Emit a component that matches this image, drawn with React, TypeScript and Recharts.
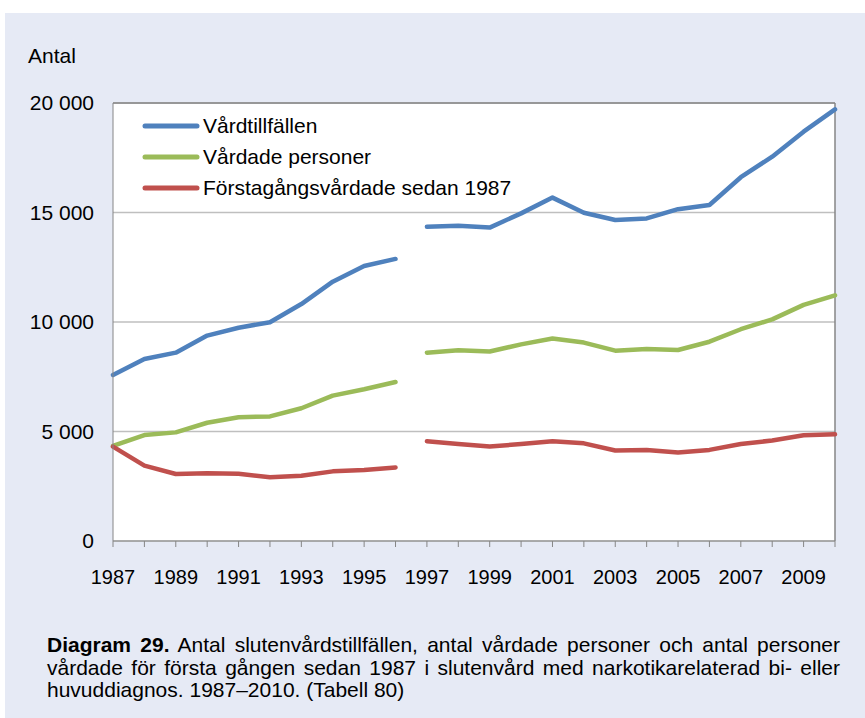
import React from 'react';
import { LineChart, Line, XAxis, YAxis, CartesianGrid, Legend, ReferenceLine } from 'recharts';

const years = [1987, 1988, 1989, 1990, 1991, 1992, 1993, 1994, 1995, 1996, 1997, 1998, 1999, 2000, 2001, 2002, 2003, 2004, 2005, 2006, 2007, 2008, 2009, 2010];
const vardtillfallen = [7580, 8310, 8600, 9380, 9740, 9990, 10820, 11840, 12560, 12880, 14350, 14400, 14310, 14960, 15680, 14990, 14660, 14730, 15150, 15340, 16610, 17550, 18690, 19710];
const vardadePersoner = [4340, 4840, 4960, 5400, 5650, 5690, 6060, 6640, 6930, 7260, 8600, 8710, 8650, 8980, 9250, 9060, 8690, 8770, 8720, 9100, 9670, 10120, 10780, 11220];
const forstagangsvardade = [4310, 3440, 3060, 3090, 3070, 2910, 2980, 3180, 3240, 3360, 4560, 4430, 4310, 4430, 4560, 4460, 4130, 4160, 4040, 4160, 4430, 4590, 4830, 4870];
const seriesNames = ['Vårdtillfällen', 'Vårdade personer', 'Förstagångsvårdade sedan 1987'];
const yTicks = [0, 5000, 10000, 15000, 20000];
const breakYear = 1997; // series are not connected between 1996 and 1997

const BLUE = '#4F81BD';
const GREEN = '#9BBB59';
const RED = '#C0504D';
const AXIS = '#868686';
const FONT = '"Liberation Sans", Arial, sans-serif';

const split = (values: number[], i: number, part: 'a' | 'b') =>
  part === 'a' ? (years[i] < breakYear ? values[i] : undefined) : (years[i] >= breakYear ? values[i] : undefined);

const data = years.map((year, i) => ({
  year,
  vtA: split(vardtillfallen, i, 'a'),
  vtB: split(vardtillfallen, i, 'b'),
  vpA: split(vardadePersoner, i, 'a'),
  vpB: split(vardadePersoner, i, 'b'),
  fgA: split(forstagangsvardade, i, 'a'),
  fgB: split(forstagangsvardade, i, 'b'),
}));

const fmt = (v: number) => String(v).replace(/\B(?=(\d{3})+(?!\d))/g, ' ');

const LegendContent = ({ payload }: any) => {
  const items = (payload || [])
    .filter((p: any) => seriesNames.includes(p.value))
    .sort((a: any, b: any) => seriesNames.indexOf(a.value) - seriesNames.indexOf(b.value));
  return (
    <div>
      {items.map((p: any) => (
        <div key={p.value} style={{ display: 'flex', alignItems: 'center', height: 31 }}>
          <svg width={58} height={8}>
            <line x1={3} y1={4} x2={55} y2={4} stroke={p.color} strokeWidth={5} strokeLinecap="round" />
          </svg>
          <span style={{ marginLeft: 3, fontSize: 21, color: '#000', fontFamily: FONT, whiteSpace: 'nowrap' }}>{p.value}</span>
        </div>
      ))}
    </div>
  );
};

const App: React.FC = () => {
  const lineProps = { type: 'linear' as const, dot: false, activeDot: false, strokeWidth: 4.5, strokeLinejoin: 'round' as const, strokeLinecap: 'round' as const, isAnimationActive: false };
  const justified = { textAlign: 'justify' as const, textAlignLast: 'justify' as const, whiteSpace: 'nowrap' as const };
  return (
    <div style={{ position: 'absolute', left: 0, top: 0, width: 865, height: 718, background: '#fff', fontFamily: FONT }}>
      <div style={{ position: 'absolute', left: 5, top: 13, width: 860, height: 705, background: '#E6EAF5' }} />
      <div style={{ position: 'absolute', left: 28, top: 44, fontSize: 21, color: '#000' }}>Antal</div>
      <div style={{ position: 'absolute', left: 0, top: 0 }}>
        <LineChart width={865} height={600} data={data} margin={{ top: 103, right: 30, left: 0, bottom: 19 }}>
          <CartesianGrid vertical={false} stroke="#BFBFBF" strokeWidth={1.5} fill="#fff" />
          <XAxis
            dataKey="year"
            type="number"
            domain={[1987, 2010]}
            ticks={years}
            interval={0}
            allowDecimals={false}
            height={40}
            stroke={AXIS}
            tickSize={6}
            tickMargin={23}
            tick={{ fill: '#000', fontSize: 20, fontFamily: FONT }}
            tickFormatter={(y: number) => (y % 2 === 1 ? String(y) : '')}
          />
          <YAxis
            domain={[0, 20000]}
            ticks={yTicks}
            interval={0}
            width={113}
            stroke={AXIS}
            tickLine={false}
            tickSize={0}
            tickMargin={19}
            tick={{ fill: '#000', fontSize: 21, fontFamily: FONT }}
            tickFormatter={fmt}
          />
          <ReferenceLine y={20000} stroke={AXIS} strokeWidth={1.5} />
          <ReferenceLine x={2010} stroke={AXIS} strokeWidth={1.5} />
          <Legend
            layout="vertical"
            align="center"
            verticalAlign="middle"
            content={<LegendContent />}
            wrapperStyle={{ position: 'absolute', left: 142, top: 110, width: 'auto', height: 'auto' }}
          />
          <Line {...lineProps} dataKey="vtA" name={seriesNames[0]} stroke={BLUE} />
          <Line {...lineProps} dataKey="vpA" name={seriesNames[1]} stroke={GREEN} />
          <Line {...lineProps} dataKey="fgA" name={seriesNames[2]} stroke={RED} />
          <Line {...lineProps} dataKey="vtB" name="vtB" stroke={BLUE} legendType="none" />
          <Line {...lineProps} dataKey="vpB" name="vpB" stroke={GREEN} legendType="none" />
          <Line {...lineProps} dataKey="fgB" name="fgB" stroke={RED} legendType="none" />
        </LineChart>
      </div>
      <div style={{ position: 'absolute', left: 47, top: 634, width: 793, fontSize: 21, lineHeight: '22.5px', color: '#000' }}>
        <div style={justified}>
          <b>Diagram 29.</b> Antal slutenvårdstillfällen, antal vårdade personer och antal personer
        </div>
        <div style={justified}>vårdade för första gången sedan 1987 i slutenvård med narkotikarelaterad bi- eller</div>
        <div>huvuddiagnos. 1987–2010. (Tabell 80)</div>
      </div>
    </div>
  );
};

export default App;
